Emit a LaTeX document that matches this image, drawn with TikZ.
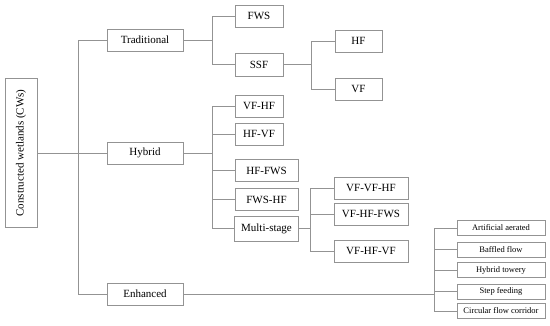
\documentclass[tikz,border=0pt]{standalone}
\usepackage{fontspec}
\setmainfont{Liberation Serif}
\tikzset{
  caja/.style={draw=gray!85, line width=0.8pt, fill=white, inner sep=0pt,
    minimum height=22pt, font=\fontsize{11}{13}\selectfont},
  cajita/.style={caja, minimum height=15pt, minimum width=88pt,
    font=\fontsize{8.5}{10}\selectfont},
  rama/.style={draw=gray!85, line width=0.8pt}
}
\begin{document}
\begin{tikzpicture}[x=1pt, y=-1pt]
        \useasboundingbox (0,0) rectangle (550,325);

        % Raiz
        \node[caja, rotate=90, minimum width=149pt, minimum height=32pt] (cw) at (21,153) {Constructed wetlands (CWs)};

        % Primer nivel
        \node[caja, minimum width=76pt] (trad) at (145,40) {Traditional};
        \node[caja, minimum width=76pt] (hyb) at (145,153) {Hybrid};
        \node[caja, minimum width=76pt] (enh) at (145,294) {Enhanced};
        \coordinate (raiz) at (78,153);
        \draw[rama] (cw) -- (hyb);
        \foreach \n in {trad,enh}
            \draw[rama] (raiz) |- (\n);

        % Tradicionales
        \node[caja, minimum width=48pt] (fws) at (259,16) {FWS};
        \node[caja, minimum width=48pt, minimum height=23pt] (ssf) at (259,64.5) {SSF};
        \node[caja, minimum width=47pt] (hf) at (358.5,41) {HF};
        \node[caja, minimum width=47pt] (vf) at (358.5,89) {VF};
        \coordinate (t) at (212,40);
        \draw[rama] (trad) -- (t);
        \foreach \n in {fws,ssf}
            \draw[rama] (t) |- (\n);
        \coordinate (s) at (311,64.5);
        \draw[rama] (ssf) -- (s);
        \foreach \n in {hf,vf}
            \draw[rama] (s) |- (\n);

        % Hibridos
        \node[caja, minimum width=48pt] (vfhf) at (259,106) {VF-HF};
        \node[caja, minimum width=48pt] (hfvf) at (259,134) {HF-VF};
        \node[caja, minimum width=63pt] (hffws) at (266.5,170.5) {HF-FWS};
        \node[caja, minimum width=63pt] (fwshf) at (266.5,199.5) {FWS-HF};
        \node[caja, minimum width=64pt, minimum height=25pt] (multi) at (266.5,228.5) {Multi-stage};
        \coordinate (h) at (212,153);
        \draw[rama] (hyb) -- (h);
        \foreach \n in {vfhf,hfvf,hffws,fwshf,multi}
            \draw[rama] (h) |- (\n);

        % Multi-etapa
        \node[caja, minimum width=74pt] (vvh) at (371,188) {VF-VF-HF};
        \node[caja, minimum width=74pt] (vhf) at (371,214) {VF-HF-FWS};
        \node[caja, minimum width=74pt] (vhv) at (371,251) {VF-HF-VF};
        \coordinate (m) at (310,228.5);
        \draw[rama] (multi) -- (m);
        \foreach \n in {vvh,vhf,vhv}
            \draw[rama] (m) |- (\n);

        % Mejorados
        \foreach \y/\n/\t in {228/aer/Artificial aerated, 249.5/baf/Baffled flow,
                270/tow/Hybrid towery, 291.5/ste/Step feeding, 311/cir/Circular flow corridor}
            \node[cajita] (\n) at (501,\y) {\t};
        \coordinate (e) at (434,294);
        \draw[rama] (enh) -- (e);
        \foreach \n in {aer,baf,tow,ste,cir}
            \draw[rama] (e) |- (\n);
    \end{tikzpicture}
\end{document}
